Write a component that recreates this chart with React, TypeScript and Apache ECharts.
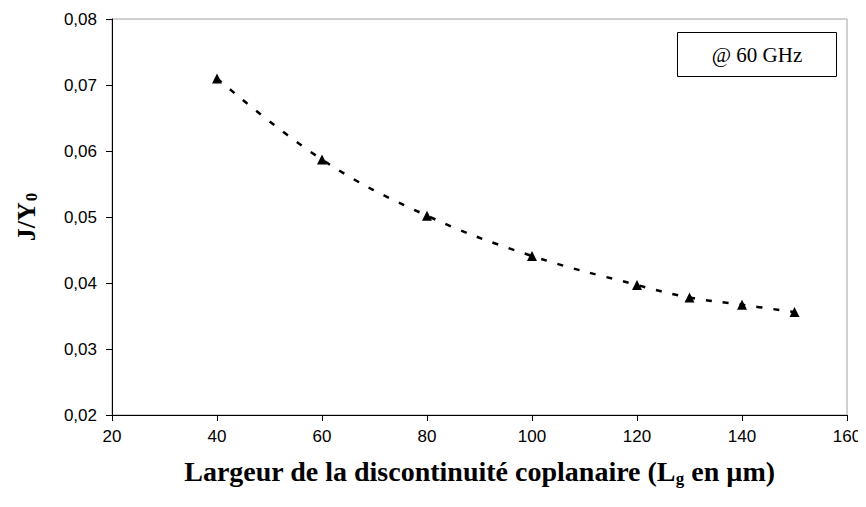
import React, { useEffect, useRef } from "react";
import * as echarts from "echarts";

const lgValues = [40, 60, 80, 100, 120, 130, 140, 150];
const jy0Values = [0.071, 0.0587, 0.0502, 0.0441, 0.0397, 0.0378, 0.0367, 0.0356];
const legendText = "@ 60 GHz";

const tickFont = "'Liberation Sans', Arial, sans-serif";
const titleFont = "'Liberation Serif', 'Times New Roman', serif";

export default function App() {
  const ref = useRef<HTMLDivElement>(null);
  useEffect(() => {
    if (!ref.current) return;
    const chart = echarts.init(ref.current, undefined, { renderer: "svg" });
    const data = lgValues.map((x, i) => [x, jy0Values[i]]);
    chart.setOption({
      animation: false,
      backgroundColor: "#fff",
      grid: {
        left: 112,
        right: 19,
        top: 19,
        bottom: 92,
        show: true,
        borderColor: "#a0a0a0",
        borderWidth: 1,
      },
      xAxis: {
        type: "value",
        min: 20,
        max: 160,
        interval: 20,
        name: "{m|Largeur de la discontinuité coplanaire (L}{s|g}{m| en µm)}",
        nameLocation: "middle",
        nameGap: 41,
        nameTextStyle: {
          rich: {
            m: {
              fontFamily: titleFont,
              fontWeight: "bold",
              fontSize: 28,
              color: "#000",
            },
            s: {
              fontFamily: titleFont,
              fontWeight: "bold",
              fontSize: 17,
              color: "#000",
              padding: [14, 0, 0, 0],
            },
          },
        },
        axisLine: { show: true, lineStyle: { color: "#000", width: 1 } },
        axisTick: { show: true, inside: false, length: 6, lineStyle: { color: "#000" } },
        axisLabel: {
          fontFamily: tickFont,
          fontSize: 17,
          color: "#000",
          margin: 13,
        },
        splitLine: { show: false },
      },
      yAxis: {
        type: "value",
        min: 0.02,
        max: 0.08,
        interval: 0.01,
        name: "{m|J/Y}{s|0}",
        nameLocation: "middle",
        nameGap: 72,
        nameRotate: 90,
        nameTextStyle: {
          rich: {
            m: {
              fontFamily: titleFont,
              fontWeight: "bold",
              fontSize: 26,
              color: "#000",
            },
            s: {
              fontFamily: titleFont,
              fontWeight: "bold",
              fontSize: 17,
              color: "#000",
              padding: [10, 0, 0, 1],
            },
          },
        },
        axisLine: { show: true, lineStyle: { color: "#000", width: 1 } },
        axisTick: { show: true, inside: false, length: 6, lineStyle: { color: "#000" } },
        axisLabel: {
          fontFamily: tickFont,
          fontSize: 17,
          color: "#000",
          margin: 15,
          formatter: (v: number) => v.toFixed(2).replace(".", ","),
        },
        splitLine: { show: false },
      },
      graphic: [
        {
          type: "group",
          left: 677,
          top: 32,
          children: [
            {
              type: "rect",
              shape: { x: 0, y: 0, width: 159, height: 44 },
              style: { fill: "#fff", stroke: "#000", lineWidth: 1 },
            },
            {
              type: "text",
              x: 79.5,
              y: 22,
              style: {
                text: legendText,
                fontFamily: titleFont,
                fontSize: 21,
                fill: "#000",
                align: "center",
                verticalAlign: "middle",
              },
            },
          ],
        },
      ],
      series: [
        {
          type: "line",
          data,
          smooth: 0.4,
          symbol: "triangle",
          symbolSize: 10,
          itemStyle: { color: "#000" },
          lineStyle: { color: "#000", width: 2.5, type: [6, 11] },
        },
      ],
    });
    return () => chart.dispose();
  }, []);
  return <div ref={ref} style={{ width: 866, height: 507, marginLeft: -8, marginTop: -8 }} />;
}
